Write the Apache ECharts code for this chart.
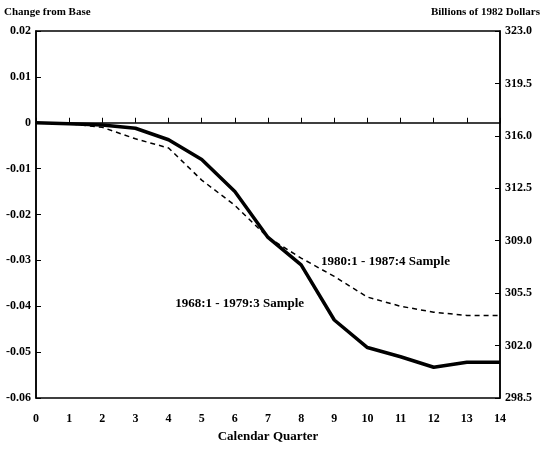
<!DOCTYPE html>
<html>
<head>
<meta charset="utf-8">
<script src="https://cdn.jsdelivr.net/npm/echarts@6/dist/echarts.min.js"></script>
<style>
  html, body { margin: 0; padding: 0; background: #fff; }
  #chart { width: 545px; height: 461px; }
</style>
</head>
<body>
<div id="chart"></div>
<script>
var quarters = [0, 1, 2, 3, 4, 5, 6, 7, 8, 9, 10, 11, 12, 13, 14];
// 1968:1 - 1979:3 sample (solid)
var sample1968 = [0, -0.0002, -0.0005, -0.0012, -0.0037, -0.008, -0.015, -0.025, -0.031, -0.043, -0.049, -0.051, -0.0533, -0.0522, -0.0522];
// 1980:1 - 1987:4 sample (dashed)
var sample1980 = [0, -0.0002, -0.001, -0.0035, -0.0055, -0.0125, -0.018, -0.025, -0.0295, -0.0335, -0.038, -0.040, -0.0413, -0.042, -0.042];
var rightLabels = ["298.5", "302.0", "305.5", "309.0", "312.5", "316.0", "319.5", "323.0"];

var font = "'Liberation Serif', 'DejaVu Serif', serif";

var chartDom = document.getElementById("chart");
var myChart = echarts.init(chartDom);

function pairs(ys) {
  return quarters.map(function (q, i) { return [q, ys[i]]; });
}

var option = {
  animation: false,
  backgroundColor: "#fff",
  textStyle: { fontFamily: font, color: "#000" },
  grid: {
    left: 36, right: 45, top: 31, bottom: 63,
    show: true, borderColor: "#000", borderWidth: 1.5
  },
  xAxis: {
    type: "value",
    min: 0, max: 14, interval: 1,
    name: "Calendar Quarter",
    nameLocation: "middle",
    nameGap: 29,
    nameTextStyle: { fontFamily: font, fontWeight: "bold", fontSize: 13, color: "#000" },
    axisLine: { show: true, lineStyle: { color: "#000", width: 1.5 } },
    axisTick: { show: true, inside: true, length: 5, lineStyle: { color: "#000" } },
    axisLabel: { fontFamily: font, fontWeight: "bold", fontSize: 12, color: "#000", margin: 15 },
    splitLine: { show: false }
  },
  yAxis: [
    {
      type: "value",
      min: -0.06, max: 0.02, interval: 0.01,
      name: "Change from Base",
      nameLocation: "end",
      nameGap: 13,
      nameTextStyle: { fontFamily: font, fontWeight: "bold", fontSize: 11, color: "#000", align: "left", padding: [0, 0, 0, -32] },
      axisLine: { show: true, lineStyle: { color: "#000", width: 1.5 } },
      axisTick: { show: true, inside: true, length: 5, lineStyle: { color: "#000" } },
      axisLabel: {
        fontFamily: font, fontWeight: "bold", fontSize: 12, color: "#000", margin: 5,
        formatter: function (v) { return Math.abs(v) < 1e-9 ? "0" : v.toFixed(2); }
      },
      splitLine: { show: false }
    },
    {
      type: "value",
      position: "right",
      min: 0, max: 7, interval: 1,
      name: "Billions of 1982 Dollars",
      nameLocation: "end",
      nameGap: 13,
      nameTextStyle: { fontFamily: font, fontWeight: "bold", fontSize: 11, color: "#000", align: "right", padding: [0, -40, 0, 0] },
      axisLine: { show: true, lineStyle: { color: "#000", width: 1.5 } },
      axisTick: { show: true, inside: true, length: 5, lineStyle: { color: "#000" } },
      axisLabel: {
        fontFamily: font, fontWeight: "bold", fontSize: 12, color: "#000", margin: 5,
        formatter: function (v) { return rightLabels[Math.round(v)]; }
      },
      splitLine: { show: false }
    }
  ],
  series: [
    {
      name: "1968:1 - 1979:3 Sample",
      type: "line",
      data: pairs(sample1968),
      symbol: "none",
      lineStyle: { color: "#000", width: 3.5, type: "solid" },
      z: 3,
      markPoint: {
        symbolSize: 0,
        data: [{ coord: [4.2, -0.0395] }],
        label: {
          show: true, position: "inside", align: "left",
          formatter: "1968:1 - 1979:3 Sample",
          fontFamily: font, fontWeight: "bold", fontSize: 13, color: "#000"
        }
      }
    },
    {
      name: "1980:1 - 1987:4 Sample",
      type: "line",
      data: pairs(sample1980),
      symbol: "none",
      lineStyle: { color: "#000", width: 1.5, type: [5, 4] },
      z: 2,
      markPoint: {
        symbolSize: 0,
        data: [{ coord: [8.6, -0.0302] }],
        label: {
          show: true, position: "inside", align: "left",
          formatter: "1980:1 - 1987:4 Sample",
          fontFamily: font, fontWeight: "bold", fontSize: 13, color: "#000"
        }
      }
    }
  ]
};

option && myChart.setOption(option);
</script>
</body>
</html>
